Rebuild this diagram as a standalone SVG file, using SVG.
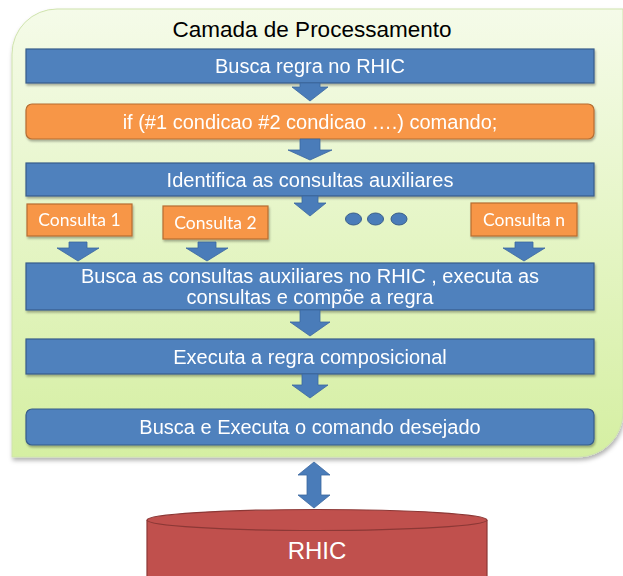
<svg xmlns="http://www.w3.org/2000/svg" width="623" height="576" viewBox="0 0 623 576">
<defs>
<linearGradient id="bg" x1="0" y1="0" x2="0" y2="1">
<stop offset="0" stop-color="#f5fbe9"/>
<stop offset="1" stop-color="#d5efa2"/>
</linearGradient>
<filter id="sh" x="-5%" y="-5%" width="110%" height="115%">
<feDropShadow dx="1" dy="3" stdDeviation="2" flood-color="#000" flood-opacity="0.3"/>
</filter>
<filter id="bs" x="-5%" y="-20%" width="110%" height="150%">
<feDropShadow dx="1" dy="2" stdDeviation="1.2" flood-color="#000" flood-opacity="0.3"/>
</filter>
</defs>
<style>
.blue{fill:#4f81bd;stroke:#385d8a;stroke-width:1.2}
.orng{fill:#f79646;stroke:#b66d31;stroke-width:1.2}
.arr{fill:#4a7cb9;stroke:#3b67a0;stroke-width:0.8}
.dot{fill:#4a7cb9;stroke:#385d8a;stroke-width:1}
.t{font-family:"Liberation Sans",Arial,sans-serif;fill:#fff;font-size:20px;text-anchor:middle}
.c{font-family:Lato,"Open Sans",sans-serif;fill:#fff;font-size:17.5px;text-anchor:middle}
</style>
<g id="container">
<path d="M12,54 A45,45 0 0 1 57,9 L623,9 L623,412 A45,45 0 0 1 578,457 L12,457 Z" fill="url(#bg)" stroke="#cfe3ad" stroke-width="1" filter="url(#sh)"/>
<text x="312" y="37" font-family="Liberation Sans,Arial,sans-serif" font-size="22.5" fill="#000" text-anchor="middle">Camada de Processamento</text>
</g>
<g id="n1" filter="url(#bs)"><rect class="blue" x="26" y="49" width="568" height="34"/><text class="t" x="310" y="73">Busca regra no RHIC</text></g>
<g id="n2" filter="url(#bs)"><rect class="orng" x="26" y="104" width="568" height="35" rx="6"/><text class="t" x="310" y="128.5">if (#1 condicao #2 condicao ….) comando;</text></g>
<g id="n3" filter="url(#bs)"><rect class="blue" x="26" y="163" width="568" height="33"/><text class="t" x="310" y="186.5">Identifica as consultas auxiliares</text></g>
<g id="c1" filter="url(#bs)"><rect class="orng" x="27" y="204" width="105" height="32"/><text class="c" x="79.5" y="226">Consulta 1</text></g>
<g id="c2" filter="url(#bs)"><rect class="orng" x="163" y="206" width="105" height="33"/><text class="c" x="215.5" y="229">Consulta 2</text></g>
<g id="dots"><ellipse class="dot" cx="353.5" cy="219" rx="8" ry="6"/><ellipse class="dot" cx="375.5" cy="219" rx="8" ry="6"/><ellipse class="dot" cx="399" cy="219" rx="8" ry="6"/></g>
<g id="cn" filter="url(#bs)"><rect class="orng" x="471" y="203" width="106" height="33"/><text class="c" x="524" y="225.5">Consulta n</text></g>
<g id="n4" filter="url(#bs)"><rect class="blue" x="26" y="263" width="568" height="47"/><text class="t" x="310" y="282.5">Busca as consultas auxiliares no RHIC , executa as</text><text class="t" x="310" y="303.5">consultas e compõe a regra</text></g>
<g id="n5" filter="url(#bs)"><rect class="blue" x="26" y="339" width="568" height="35"/><text class="t" x="310" y="363.5">Executa a regra composicional</text></g>
<g id="n6" filter="url(#bs)"><rect class="blue" x="26" y="409" width="568" height="36" rx="6"/><text class="t" x="310" y="434">Busca e Executa o comando desejado</text></g>
<g id="rhic">
<path d="M147,520 L147,580 L487,580 L487,520" fill="#c0504d" stroke="#8c3836" stroke-width="1.2"/>
<ellipse cx="317" cy="520" rx="170" ry="10.5" fill="#c0504d" stroke="#8c3836" stroke-width="1.2"/>
<text x="317" y="559" font-family="Liberation Sans,Arial,sans-serif" font-size="24" fill="#fff" text-anchor="middle">RHIC</text>
</g>
<g id="connectors">
<path class="arr" d="M300,83 L320,83 L320,87 L328,87 L310,101 L292,87 L300,87 Z"/>
<path class="arr" d="M300,139 L320,139 L320,150 L332,150 L310,160 L288,150 L300,150 Z"/>
<path class="arr" d="M302,196 L318,196 L318,203 L326,203 L310,216 L294,203 L302,203 Z"/>
<path class="arr" d="M69,242 L87,242 L87,248 L99,248 L78,261 L57,248 L69,248 Z"/>
<path class="arr" d="M198,242 L216,242 L216,248 L228,248 L207,261 L186,248 L198,248 Z"/>
<path class="arr" d="M515,242 L533,242 L533,248 L545,248 L524,261 L503,248 L515,248 Z"/>
<path class="arr" d="M300,310 L320,310 L320,322 L330,322 L310,336 L290,322 L300,322 Z"/>
<path class="arr" d="M302,374 L318,374 L318,385 L328,385 L310,398 L292,385 L302,385 Z"/>
<path class="arr" d="M314,462 L330,475 L321,475 L321,495 L330,495 L314,508 L298,495 L307,495 L307,475 L298,475 Z"/>
</g>
</svg>
